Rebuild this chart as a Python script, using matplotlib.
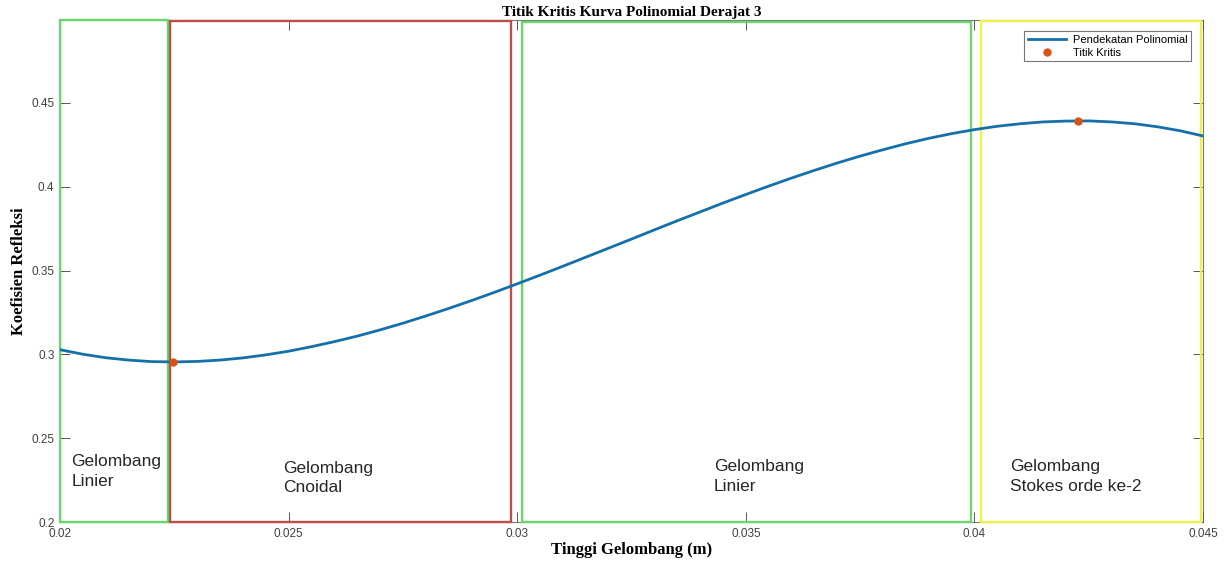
import numpy as np
import matplotlib
matplotlib.use("Agg")
import matplotlib.pyplot as plt
from matplotlib.patches import Rectangle

# --- data ---
x_vals = [0.0200, 0.0205, 0.0210, 0.0215, 0.0220, 0.0225, 0.0230, 0.0235, 0.0240, 0.0245,
          0.0250, 0.0255, 0.0260, 0.0265, 0.0270, 0.0275, 0.0280, 0.0285, 0.0290, 0.0295,
          0.0300, 0.0305, 0.0310, 0.0315, 0.0320, 0.0325, 0.0330, 0.0335, 0.0340, 0.0345,
          0.0350, 0.0355, 0.0360, 0.0365, 0.0370, 0.0375, 0.0380, 0.0385, 0.0390, 0.0395,
          0.0400, 0.0405, 0.0410, 0.0415, 0.0420, 0.0425, 0.0430, 0.0435, 0.0440, 0.0445,
          0.0450]
y_vals = [0.3028, 0.3001, 0.2980, 0.2966, 0.2957, 0.2955, 0.2958, 0.2966, 0.2979, 0.2997,
          0.3019, 0.3046, 0.3076, 0.3109, 0.3146, 0.3186, 0.3229, 0.3274, 0.3321, 0.3370,
          0.3421, 0.3473, 0.3526, 0.3580, 0.3634, 0.3688, 0.3743, 0.3797, 0.3850, 0.3903,
          0.3954, 0.4004, 0.4052, 0.4098, 0.4142, 0.4183, 0.4221, 0.4257, 0.4289, 0.4317,
          0.4341, 0.4361, 0.4376, 0.4387, 0.4392, 0.4393, 0.4387, 0.4376, 0.4358, 0.4334,
          0.4303]
crit_x = [0.02247, 0.04227]
crit_y = [0.2955, 0.4393]

region_x0 = [0.02000, 0.02241, 0.03011, 0.04014]
region_x1 = [0.02236, 0.02986, 0.03993, 0.04496]
region_top = [0.4993, 0.4990, 0.4985, 0.4990]
region_colors = ['#6BD66B', '#BC4F4C', '#6BD66B', '#F0F04A']
region_labels = ["Gelombang\nLinier", "Gelombang\nCnoidal", "Gelombang\nLinier",
                 "Gelombang\nStokes orde ke-2"]
label_x = [0.02025, 0.02488, 0.0343, 0.04078]
label_y = [0.2405, 0.2365, 0.2375, 0.2375]

xticks = [0.02, 0.025, 0.03, 0.035, 0.04, 0.045]
xtick_labels = ["0.02", "0.025", "0.03", "0.035", "0.04", "0.045"]
yticks = [0.2, 0.25, 0.3, 0.35, 0.4, 0.45]
ytick_labels = ["0.2", "0.25", "0.3", "0.35", "0.4", "0.45"]

fig = plt.figure(figsize=(12.24, 5.65), dpi=100)
ax = fig.add_axes([0.049, 0.0761, 0.9339, 0.8885])

for s in ax.spines.values():
    s.set_color('#777777')
    s.set_linewidth(0.8)
    s.set_zorder(1)

for x0, x1, top, c in zip(region_x0, region_x1, region_top, region_colors):
    ax.add_patch(Rectangle((x0, 0.2), x1 - x0, top - 0.2, fill=False,
                           edgecolor=c, linewidth=1.7, clip_on=False, zorder=3))

ax.plot(x_vals, y_vals, color='#1570AA', linewidth=2.0, zorder=4,
        solid_joinstyle='round', label='Pendekatan Polinomial')
ax.plot(crit_x, crit_y, 'o', color='#D95319', markersize=5, zorder=5,
        label='Titik Kritis')

for lx, ly, txt in zip(label_x, label_y, region_labels):
    ax.text(lx, ly, txt, ha='left', va='top', fontsize=12.5,
            family='Liberation Sans', color='#262626', linespacing=1.38, zorder=6)

ax.set_xlim(0.02, 0.045)
ax.set_ylim(0.2, 0.4995)
ax.set_xticks(xticks)
ax.set_xticklabels(xtick_labels)
ax.set_yticks(yticks)
ax.set_yticklabels(ytick_labels)
ax.tick_params(direction='in', length=7, width=0.7, color='#555555',
               labelsize=8.5, labelcolor='#404040', top=True, right=True, pad=4)
for lab in ax.get_xticklabels() + ax.get_yticklabels():
    lab.set_family('Liberation Sans')

ax.set_title("Titik Kritis Kurva Polinomial Derajat 3", fontsize=11,
             fontweight='bold', family='Liberation Serif', pad=3)
ax.set_xlabel("Tinggi Gelombang (m)", fontsize=12, fontweight='bold',
              family='Liberation Serif', labelpad=2)
ax.set_ylabel("Koefisien Refleksi", fontsize=12, fontweight='bold',
              family='Liberation Serif', labelpad=3)

leg = ax.legend(loc='upper right', bbox_to_anchor=(0.9925, 0.985),
                prop={'family': 'Liberation Sans', 'size': 8},
                frameon=True, fancybox=False, edgecolor='#555555',
                borderpad=0.35, labelspacing=0.25, handlelength=3.4,
                handletextpad=0.6, borderaxespad=0.3)
leg.get_frame().set_linewidth(0.8)
leg.set_zorder(7)

fig.savefig("out.png", dpi=100)
